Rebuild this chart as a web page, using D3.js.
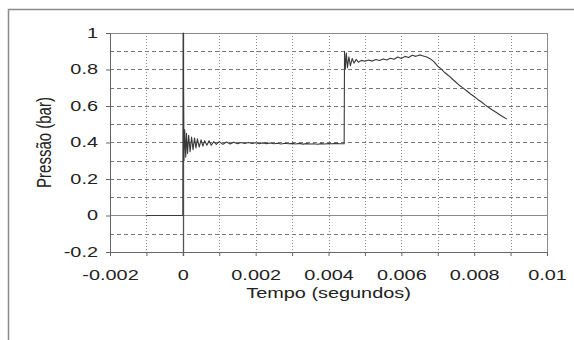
<!DOCTYPE html>
<html>
<head>
<meta charset="utf-8">
<script src="https://cdn.jsdelivr.net/npm/d3@7"></script>
<style>
  body { margin: 0; background: #fff; }
  svg { display: block; }
</style>
</head>
<body>
<div id="chart"></div>
<script>
var WIDTH = 574, HEIGHT = 340;

// tempo (s) e pressao (bar)
var tempo = [-0.001, 0, 0.00001, 0.00003, 0.00005, 0.00008, 0.0001, 0.00013, 0.00016, 0.0002,
             0.00024, 0.00028, 0.00032, 0.00036, 0.0004, 0.00045, 0.0005, 0.00055, 0.0006, 0.00066,
             0.00072, 0.00078, 0.00085, 0.00092, 0.001, 0.0011, 0.0012, 0.0013, 0.0014, 0.0015,
             0.0016, 0.0017, 0.0018, 0.0019, 0.002, 0.0021, 0.0022, 0.0023, 0.0024, 0.0025,
             0.0026, 0.0027, 0.0028, 0.0029, 0.003, 0.0031, 0.0032, 0.0033, 0.0034, 0.0035,
             0.0036, 0.0037, 0.0038, 0.0039, 0.004, 0.0041, 0.0042, 0.0043, 0.00443, 0.00444,
             0.00446, 0.00449, 0.00452, 0.00456, 0.0046, 0.00465, 0.0047, 0.00476, 0.00482, 0.0049,
             0.005, 0.0051, 0.0052, 0.0053, 0.0054, 0.0055, 0.0056, 0.0057, 0.0058, 0.0059,
             0.006, 0.0061, 0.0062, 0.0063, 0.0064, 0.0065, 0.0066, 0.0067, 0.0068, 0.0069,
             0.007, 0.0071, 0.0072, 0.0073, 0.0074, 0.0075, 0.0076, 0.0077, 0.0078, 0.0079,
             0.008, 0.0081, 0.0082, 0.0083, 0.0084, 0.0085, 0.0086, 0.0087, 0.0088, 0.0089];
var pressao = [0, 0, 1.0, 0.30, 0.47, 0.32, 0.45, 0.34, 0.44, 0.35,
               0.43, 0.36, 0.425, 0.37, 0.42, 0.375, 0.415, 0.38, 0.41, 0.385,
               0.41, 0.385, 0.405, 0.39, 0.405, 0.39, 0.403, 0.392, 0.402, 0.393,
               0.4, 0.394, 0.4, 0.395, 0.399, 0.393, 0.398, 0.394, 0.397, 0.393,
               0.396, 0.392, 0.396, 0.393, 0.395, 0.392, 0.395, 0.391, 0.394, 0.392,
               0.393, 0.39, 0.394, 0.392, 0.394, 0.393, 0.395, 0.393, 0.393, 0.9,
               0.80, 0.89, 0.81, 0.87, 0.82, 0.86, 0.835, 0.855, 0.84, 0.85,
               0.845, 0.852, 0.846, 0.855, 0.849, 0.858, 0.852, 0.862, 0.856, 0.868,
               0.86, 0.872, 0.866, 0.878, 0.872, 0.88, 0.874, 0.868, 0.858, 0.842,
               0.818, 0.802, 0.782, 0.766, 0.748, 0.73, 0.712, 0.698, 0.682, 0.666,
               0.652, 0.636, 0.622, 0.606, 0.592, 0.578, 0.566, 0.552, 0.54, 0.528];

var yTicks = [-0.2, 0, 0.2, 0.4, 0.6, 0.8, 1];
var yGrid = [-0.1, 0.1, 0.2, 0.3, 0.4, 0.5, 0.6, 0.7, 0.8, 0.9];
var xTicks = [-0.002, -0.001, 0, 0.001, 0.002, 0.003, 0.004, 0.005, 0.006, 0.007, 0.008, 0.009, 0.01];
var xLabels = [-0.002, 0, 0.002, 0.004, 0.006, 0.008, 0.01];

var margin = {left: 110, top: 33, right: 27, bottom: 88};
var pw = WIDTH - margin.left - margin.right;
var ph = HEIGHT - margin.top - margin.bottom;
var FONT = "'Liberation Sans', Arial, sans-serif";
var STRETCH = "scale(1.42,1)";

var svg = d3.select("#chart").append("svg")
            .attr("width", WIDTH)
            .attr("height", HEIGHT);

// moldura externa
svg.append("path")
   .attr("d", "M8.5,340V9.5H574")
   .attr("fill", "none")
   .attr("stroke", "#8a8a8a")
   .attr("stroke-width", 1.5);

var x = d3.scaleLinear().domain([-0.002, 0.01]).range([0, pw]);
var y = d3.scaleLinear().domain([-0.2, 1]).range([ph, 0]);

var g = svg.append("g").attr("transform", "translate(" + margin.left + "," + margin.top + ")");

// grades
g.selectAll(".hgrid").data(yGrid).enter().append("line")
 .attr("x1", 0).attr("x2", pw)
 .attr("y1", d => Math.round(y(d)) + 0.5).attr("y2", d => Math.round(y(d)) + 0.5)
 .attr("stroke", "#777").attr("stroke-width", 1)
 .attr("stroke-dasharray", "4,3");

g.selectAll(".vgrid").data(xTicks.slice(1, -1)).enter().append("line")
 .attr("y1", 0).attr("y2", ph)
 .attr("x1", d => Math.round(x(d)) + 0.5).attr("x2", d => Math.round(x(d)) + 0.5)
 .attr("stroke", "#888").attr("stroke-width", 1)
 .attr("stroke-dasharray", "1,2");

// borda da area do grafico
g.append("rect")
 .attr("x", 0.5).attr("y", 0.5).attr("width", pw).attr("height", ph)
 .attr("fill", "none").attr("stroke", "#8a8a8a").attr("stroke-width", 1);

// linha do zero
g.append("line")
 .attr("x1", 0).attr("x2", pw)
 .attr("y1", Math.round(y(0)) + 0.5).attr("y2", Math.round(y(0)) + 0.5)
 .attr("stroke", "#8a8a8a").attr("stroke-width", 1);

g.append("line")
 .attr("y1", 0).attr("y2", ph + 4)
 .attr("x1", Math.round(x(0)) + 0.5).attr("x2", Math.round(x(0)) + 0.5)
 .attr("stroke", "#555").attr("stroke-width", 1.3);

// eixos
var fmt = d => String(+d.toFixed(3));
var yAxis = g.append("g")
  .call(d3.axisLeft(y).tickValues(yTicks).tickSize(4).tickPadding(12).tickFormat(fmt));
var xAxis = g.append("g")
  .attr("transform", "translate(0," + ph + ")")
  .call(d3.axisBottom(x).tickValues(xTicks).tickSize(4).tickPadding(14)
          .tickFormat(d => xLabels.some(v => Math.abs(v - d) < 1e-9) ? fmt(d) : ""));

[yAxis, xAxis].forEach(function(a) {
  a.select(".domain").attr("stroke", "#666");
  a.selectAll(".tick line").attr("stroke", "#666");
  a.selectAll("text")
   .attr("font-family", FONT)
   .attr("font-size", "14px")
   .attr("fill", "#222");
});
xAxis.selectAll("text").attr("transform", STRETCH);
yAxis.selectAll("text").attr("transform", "translate(-12,0) " + STRETCH).attr("x", 0);

// serie
var line = d3.line().x((d, i) => x(tempo[i])).y(d => y(d));
g.append("path")
 .datum(pressao)
 .attr("d", line)
 .attr("fill", "none")
 .attr("stroke", "#3a3a3a")
 .attr("stroke-width", 1.1)
 .attr("stroke-linejoin", "round");

// titulos
svg.append("text")
   .attr("transform", "translate(" + (margin.left + pw / 2) + ",298) " + STRETCH)
   .attr("text-anchor", "middle")
   .attr("font-family", FONT)
   .attr("font-size", "14px").attr("fill", "#222")
   .text("Tempo (segundos)");

svg.append("text")
   .attr("transform", "translate(51," + (margin.top + ph / 2) + ") rotate(-90) scale(1,1.3)")
   .attr("text-anchor", "middle")
   .attr("font-family", FONT)
   .attr("font-size", "15px").attr("fill", "#222")
   .text("Pressão (bar)");
</script>
</body>
</html>
